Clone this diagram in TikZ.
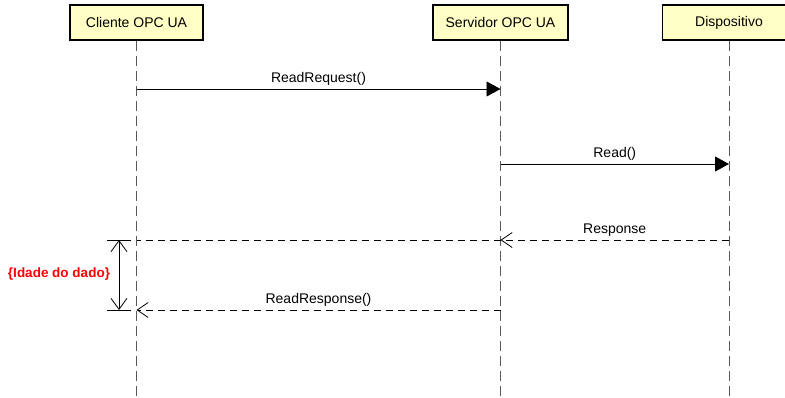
\documentclass[tikz,border=0pt]{standalone}
\usepackage{fontspec}
\setmainfont{Liberation Sans}
\usetikzlibrary{arrows.meta, positioning}
\definecolor{boxfill}{HTML}{FFFFC6}
\definecolor{agered}{HTML}{FF0000}

\tikzset{
  obj/.style={draw, line width=1.7pt, fill=boxfill, minimum height=35pt, inner sep=0pt,
    font=\fontsize{14}{16}\selectfont},
  life/.style={black!65, line width=1pt, dash pattern=on 10pt off 5pt},
  call/.style={line width=0.8pt, -{Triangle[length=14pt,width=15pt]}},
  reply/.style={line width=0.8pt, dash pattern=on 7pt off 5pt, -{Straight Barb[length=11pt,width=15pt]}},
  msg/.style={font=\fontsize{14}{16}\selectfont, above, inner sep=3pt}
}

\begin{document}
\begin{tikzpicture}[x=1pt, y=-1pt]
\useasboundingbox (0,0) rectangle (785,397);

% objects and their lifelines
\node[obj, minimum width=133pt] (cli) at (136.5,22.5) {Cliente OPC UA};
\node[obj, minimum width=135pt] (srv) at (500.5,22.5) {Servidor OPC UA};
\node[obj, minimum width=133pt] (dev) at (729,22.5) {Dispositivo};
\foreach \o in {cli, srv, dev} {
  \coordinate (\o-end) at (\o.south |- 0,397);
  \draw[life] (\o.south) -- (\o-end);
}

% points on the lifelines
\coordinate (c1) at (cli.south |- 0,89);
\coordinate (s1) at (srv.south |- 0,89);
\coordinate (s2) at (srv.south |- 0,164);
\coordinate (d2) at (dev.south |- 0,164);
\coordinate (c3) at (cli.south |- 0,240);
\coordinate (s3) at (srv.south |- 0,240);
\coordinate (d3) at (dev.south |- 0,240);
\coordinate (c4) at (cli.south |- 0,310);
\coordinate (s4) at (srv.south |- 0,310);

% messages
\draw[call] (c1) -- node[msg] {ReadRequest()} (s1);
\draw[call] (s2) -- node[msg] {Read()} (d2);
\draw[reply] (d3) -- node[msg] {Response} (s3);
\draw[line width=0.8pt, dash pattern=on 7pt off 5pt] (s3) -- (c3);
\draw[reply] (s4) -- node[msg] {ReadResponse()} (c4);

% age of the data
\coordinate (a1) at (119,240);
\coordinate (a2) at (119,310);
\draw[line width=0.8pt] ([xshift=-12pt]a1) -- ([xshift=12pt]a1);
\draw[line width=0.8pt] ([xshift=-12pt]a2) -- ([xshift=12pt]a2);
\draw[line width=0.8pt, {Straight Barb[length=11pt,width=16pt]}-{Straight Barb[length=11pt,width=16pt]}] (a1) -- (a2);
\node[text=agered, font=\bfseries\fontsize{13.5}{16}\selectfont] (age) at (59,274) {\{Idade do dado\}};
\end{tikzpicture}
\end{document}
